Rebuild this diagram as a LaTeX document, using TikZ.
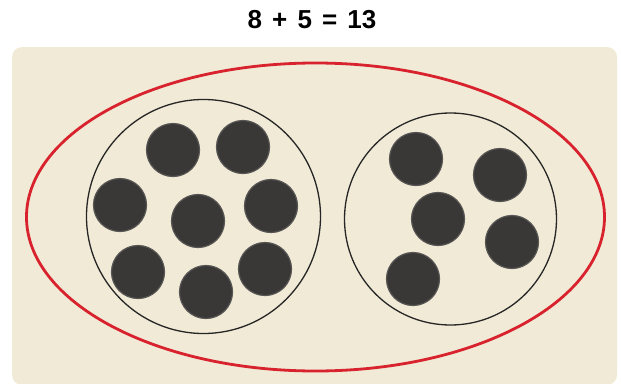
\documentclass[tikz,border=0pt]{standalone}
\usepackage{fontspec}
\setmainfont{Liberation Sans}
\usetikzlibrary{positioning,shapes.geometric}
\definecolor{sand}{HTML}{F1EAD6}
\definecolor{setred}{HTML}{D8232E}
\definecolor{counter}{HTML}{3A3836}
\tikzset{
  panel/.style   = {fill=sand, draw=none, rounded corners=10pt, inner sep=0pt},
  whole/.style   = {draw=setred, line width=2.8pt, ellipse, inner sep=0pt},
  part/.style    = {draw=black!85, line width=1.3pt, circle, inner sep=0pt},
  counter/.style = {circle, fill=counter, draw=counter!85, line width=1.2pt,
                    minimum size=53pt, inner sep=0pt},
  title/.style   = {font=\fontsize{26}{30}\selectfont\bfseries, inner sep=0pt},
}

\begin{document}
\begin{tikzpicture}[x=1pt, y=-1pt]
  \useasboundingbox (0,0) rectangle (621,383);
  \node[title] (sum) at (312,20) {\spaceskip=0.39em 8 + 5 = 13};
  \node[panel, minimum width=605pt, minimum height=338pt] (bg) at (314.5,216) {};
  \node[whole, minimum width=578pt, minimum height=308pt] (all) at (315.5,217) {};
  \node[part, minimum size=234pt] (eight) at (203.5,216.5) {};
  \node[part, minimum size=212pt] (five) at (450.5,219) {};
  % eight counters
  \foreach \x/\y [count=\i] in {173/150, 243/147, 120/205, 198/221,
                                271/206, 138/272, 206/292, 265/269}
    \node[counter] (l\i) at (\x,\y) {};
  % five counters
  \foreach \x/\y [count=\i] in {416/159, 500/175, 438/219, 512/242, 413/279}
    \node[counter] (r\i) at (\x,\y) {};
\end{tikzpicture}
\end{document}
